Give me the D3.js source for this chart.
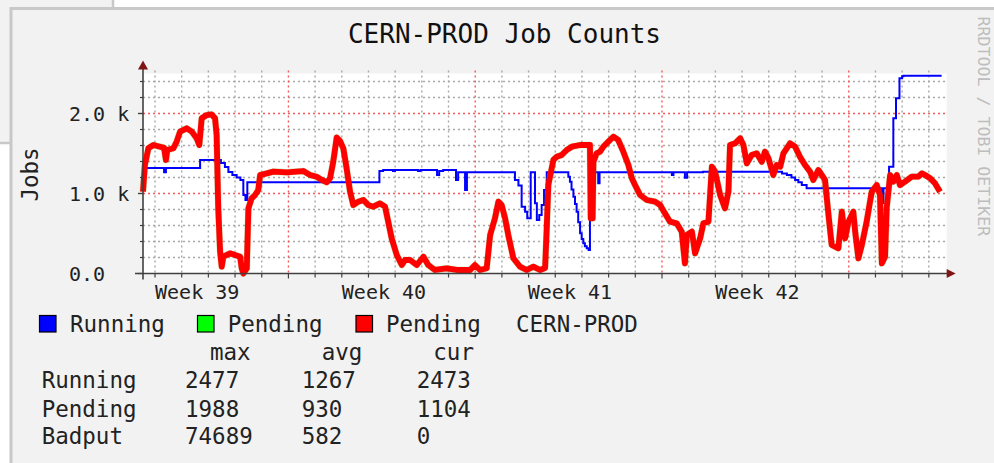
<!DOCTYPE html>
<html><head><meta charset="utf-8">
<script src="https://cdn.jsdelivr.net/npm/d3@7"></script>
<style>html,body{margin:0;padding:0;background:#fff;overflow:hidden}</style>
</head><body>
<svg id="c" width="994" height="463"></svg>
<script>
// ---------- data ----------
const title = "CERN-PROD Job Counts";
const yLabel = "Jobs";
const watermark = "RRDTOOL / TOBI OETIKER";
const yDomain = [0, 2500];
const xDomain = [0, 30.12];            // days since graph start
const yMajorTicks = [0, 1000, 2000];
const yTickLabels = ["0.0", "1.0 k", "2.0 k"];
const yMinorStep = 200;
const weekStarts = [5.45, 12.45, 19.45, 26.45];
const weekLabelDays = [2.03, 9.03, 16.0, 23.03];
const weekLabels = ["Week 39", "Week 40", "Week 41", "Week 42"];

// Running jobs (step series): [day, jobs]
const runningData = [
 [0,1320],[0.79,1265],[0.86,1320],[2.14,1420],[2.92,1380],[3.07,1330],[3.20,1270],[3.35,1230],
 [3.51,1200],[3.65,1169],[3.76,981],[3.84,920],[3.91,1140],[8.86,1281],[9.00,1294],[9.37,1281],
 [9.44,1294],[10.31,1281],[10.40,1294],[11.02,1231],[11.10,1281],[11.25,1294],[11.73,1169],
 [11.81,1265],[12.07,1044],[12.14,1265],[13.94,1169],[14.07,1100],[14.19,835],[14.32,773],
 [14.40,690],[14.53,1265],[14.69,877],[14.76,669],[14.85,731],[14.94,856],[15.03,1044],
 [15.13,1265],[15.94,1210],[16.00,1148],[16.06,1050],[16.13,960],[16.19,870],[16.25,773],
 [16.31,640],[16.38,502],[16.44,430],[16.50,377],[16.56,340],[16.63,315],[16.70,294],
 [16.75,1265],[17.06,1127],[17.11,1265],[19.82,1231],[19.88,1265],[20.31,1198],[20.39,1265],
 [20.99,1273],[23.95,1250],[24.13,1231],[24.30,1200],[24.44,1169],[24.56,1140],[24.69,1106],
 [24.87,1065],[27.69,880],[27.75,1065],[27.96,1335],[28.12,1940],[28.22,2190],[28.35,2440],
 [28.45,2465],[28.50,2473],[29.93,2473]
];

// Pending jobs: [day, jobs]
const pendingData = [
 [0.00,1023],[0.07,1356],[0.20,1565],[0.39,1606],[0.64,1585],[0.79,1570],[0.86,1419],[0.91,1544],
 [1.14,1565],[1.26,1648],[1.39,1773],[1.64,1815],[1.83,1773],[2.01,1690],[2.11,1606],[2.20,1940],
 [2.39,1981],[2.57,1988],[2.70,1940],[2.76,1731],[2.82,815],[2.89,273],[2.95,85],[3.01,210],
 [3.26,252],[3.45,231],[3.64,210],[3.70,65],[3.76,0],[3.89,65],[3.95,815],[4.07,940],[4.20,981],
 [4.32,1044],[4.39,1231],[4.64,1252],[4.88,1273],[5.39,1265],[6.01,1281],[6.26,1231],[6.51,1210],
 [6.70,1169],[6.89,1140],[7.01,1190],[7.13,1398],[7.26,1700],[7.38,1660],[7.51,1560],[7.63,1315],
 [7.76,1023],[7.88,856],[8.07,898],[8.26,919],[8.44,856],[8.63,835],[8.88,877],[9.07,835],
 [9.19,648],[9.32,440],[9.51,231],[9.70,106],[9.82,169],[10.01,169],[10.26,106],[10.51,210],
 [10.69,106],[10.94,44],[11.38,65],[11.76,44],[12.26,44],[12.44,106],[12.63,44],[12.88,65],
 [13.01,481],[13.19,690],[13.32,898],[13.44,856],[13.57,690],[13.69,481],[13.88,190],[14.13,85],
 [14.38,44],[14.63,85],[14.88,44],[15.07,69],[15.13,565],[15.19,1106],[15.38,1419],[15.51,1460],
 [15.69,1481],[15.88,1544],[16.07,1585],[16.38,1606],[16.75,1606],[16.78,690],[16.85,690],
 [16.88,1398],[17.00,1502],[17.13,1523],[17.25,1585],[17.44,1648],[17.63,1710],[17.81,1669],
 [18.00,1523],[18.19,1356],[18.32,1190],[18.44,1106],[18.63,981],[18.88,919],[19.19,898],
 [19.38,856],[19.56,752],[19.75,648],[20.00,627],[20.19,523],[20.31,127],[20.38,481],[20.57,523],
 [20.69,252],[20.88,440],[21.00,627],[21.19,648],[21.32,1335],[21.44,1273],[21.63,981],[21.81,815],
 [21.94,1023],[22.00,1606],[22.19,1627],[22.38,1690],[22.50,1606],[22.63,1377],[22.81,1481],
 [23.00,1502],[23.19,1398],[23.31,1523],[23.44,1440],[23.62,1231],[23.75,1356],[23.88,1335],
 [24.00,1502],[24.25,1627],[24.44,1585],[24.62,1460],[24.81,1356],[25.00,1273],[25.12,1169],
 [25.31,1294],[25.56,1169],[25.69,731],[25.81,356],[26.06,315],[26.19,773],[26.31,440],[26.44,648],
 [26.62,773],[26.69,523],[26.81,190],[26.94,356],[27.12,648],[27.31,1023],[27.50,1106],[27.62,981],
 [27.69,127],[27.81,210],[27.87,815],[28.00,1231],[28.12,1148],[28.25,1231],[28.37,1106],
 [28.56,1148],[28.81,1210],[29.06,1210],[29.19,1252],[29.31,1231],[29.50,1190],[29.68,1127],
 [29.87,1023]
];

const legendNames = ["Running", "Pending", "Pending"];
const legendColors = ["#0000ff", "#00ff00", "#ff0000"];
const legendSite = "CERN-PROD";
const statHeaders = ["max", "avg", "cur"];
const statRows = ["Running", "Pending", "Badput"];
const statMax = [2477, 1988, 74689];
const statAvg = [1267, 930, 582];
const statCur = [2473, 1104, 0];

// ---------- drawing ----------
const svg = d3.select("#c");
const mono = "'DejaVu Sans Mono', monospace";
const x = d3.scaleLinear().domain(xDomain).range([143, 946.7]);
const y = d3.scaleLinear().domain(yDomain).range([273.5, 73.5]);

// page decoration
svg.append("rect").attr("x",0).attr("y",0).attr("width",994).attr("height",463).attr("fill","#fff");
svg.append("rect").attr("x",-5).attr("y",-5).attr("width",118).attr("height",148)
  .attr("fill","#f2f2f2").attr("stroke","#c8c8c8").attr("stroke-width",2.5);
svg.append("rect").attr("x",11).attr("y",8.5).attr("width",1000).attr("height",480)
  .attr("fill","#f2f2f2").attr("stroke","#c8c8c8").attr("stroke-width",3);

// plot background
svg.append("rect").attr("x",x.range()[0]).attr("y",y.range()[1])
  .attr("width",x.range()[1]-x.range()[0]).attr("height",y.range()[0]-y.range()[1]).attr("fill","#fff");

// grid
const g = svg.append("g");
const dayTicks = d3.range(weekStarts[0] % 1, xDomain[1], 1);
const isWeek = d => weekStarts.some(w => Math.abs(w - d) < 0.01);
const yMinor = d3.range(yDomain[0], yDomain[1], yMinorStep).filter(v => v > 0);
g.selectAll(".hg").data(yMinor).enter().append("line")
  .attr("x1",x.range()[0]).attr("x2",x.range()[1]).attr("y1",d=>y(d)).attr("y2",d=>y(d))
  .attr("stroke",d=>yMajorTicks.includes(d)?"#f05a5a":"#a8a8a8").attr("stroke-width",1.4)
  .attr("stroke-dasharray","2,3");
g.selectAll(".vg").data(dayTicks).enter().append("line")
  .attr("x1",d=>x(d)).attr("x2",d=>x(d)).attr("y1",y.range()[1]-3).attr("y2",y.range()[0])
  .attr("stroke",d=>isWeek(d)?"#f05a5a":"#a8a8a8").attr("stroke-width",1.4)
  .attr("stroke-dasharray","2,3");

// data
const lineRun = d3.line().x(d=>x(d[0])).y(d=>y(d[1])).curve(d3.curveStepAfter);
const linePend = d3.line().x(d=>x(d[0])).y(d=>y(d[1]));
svg.append("path").attr("d",lineRun(runningData)).attr("fill","none")
  .attr("stroke","#0000ff").attr("stroke-width",2);
svg.append("path").attr("d",linePend(pendingData)).attr("fill","none")
  .attr("stroke","#6a8a00").attr("stroke-width",6.6).attr("stroke-linejoin","round").attr("stroke-opacity",0.35);
svg.append("path").attr("d",linePend(pendingData)).attr("fill","none")
  .attr("stroke","#ff0000").attr("stroke-width",5.8).attr("stroke-linejoin","round");

// axes
const ax = svg.append("g").attr("stroke","#404040");
ax.append("line").attr("x1",x.range()[0]-8).attr("x2",x.range()[1]+2)
  .attr("y1",y(0)).attr("y2",y(0)).attr("stroke-width",1.6);
ax.append("line").attr("x1",x.range()[0]).attr("x2",x.range()[0])
  .attr("y1",y(0)+6).attr("y2",y.range()[1]-6).attr("stroke-width",1.6);
ax.selectAll(".yt").data(yMinor.concat(yMajorTicks)).enter().append("line")
  .attr("x1",d=>x.range()[0]-(yMajorTicks.includes(d)?5:3)).attr("x2",x.range()[0])
  .attr("y1",d=>y(d)).attr("y2",d=>y(d)).attr("stroke-width",1.2);
ax.selectAll(".xt").data(dayTicks).enter().append("line")
  .attr("x1",d=>x(d)).attr("x2",d=>x(d))
  .attr("y1",y(0)).attr("y2",d=>y(0)+(isWeek(d)?5:4)).attr("stroke-width",1.2);
// arrows
const x0 = x.range()[0], yT = y.range()[1];
svg.append("path").attr("fill","#7f1515")
  .attr("d",`M${x0},${yT-13}L${x0-5},${yT-4}L${x0+5},${yT-4}Z`);
const xR = x.range()[1];
svg.append("path").attr("fill","#7f1515")
  .attr("d",`M${xR+9},${y(0)}L${xR},${y(0)-4.5}L${xR},${y(0)+4.5}Z`);

// texts
svg.append("text").attr("x",504.5).attr("y",43).attr("text-anchor","middle")
  .attr("font-family",mono).attr("font-size",26).attr("fill","#111").text(title);
svg.selectAll(".yl").data(yMajorTicks).enter().append("text")
  .attr("x",69).attr("y",d=>y(d)+7.3).attr("font-family",mono).attr("font-size",20)
  .attr("fill","#222").text((d,i)=>yTickLabels[i]);
svg.selectAll(".wl").data(weekLabelDays).enter().append("text")
  .attr("x",d=>x(d)).attr("y",298.5).attr("text-anchor","middle").attr("font-family",mono)
  .attr("font-size",20).attr("fill","#222").text((d,i)=>weekLabels[i]);
svg.append("text").attr("transform","translate(38,174.5) rotate(-90)").attr("text-anchor","middle")
  .attr("font-family",mono).attr("font-size",22.5).attr("fill","#222").text(yLabel);
svg.append("text").attr("transform","translate(978,16.5) rotate(90)")
  .attr("font-family",mono).attr("font-size",16.6).attr("fill","#bdbdbd").text(watermark);

// legend
const boxX = [39.5, 197.5, 356];
const textX = [70, 227.7, 386];
legendNames.forEach((n,i)=>{
  svg.append("rect").attr("x",boxX[i]).attr("y",315.5).attr("width",16.5).attr("height",16.5)
    .attr("fill",legendColors[i]).attr("stroke","#000").attr("stroke-width",1.2);
  svg.append("text").attr("x",textX[i]).attr("y",332).attr("font-family",mono)
    .attr("font-size",22.5).attr("fill","#222").text(n);
});
svg.append("text").attr("x",516).attr("y",332).attr("font-family",mono)
  .attr("font-size",22.5).attr("fill","#222").text(legendSite);

const colX = [185, 301.7, 416.7];
const headX = [210, 321.7, 433.3];
statHeaders.forEach((h,i)=>{
  svg.append("text").attr("x",headX[i]).attr("y",360).attr("font-family",mono)
    .attr("font-size",22.5).attr("fill","#222").text(h);
});
const rowY = [388.3, 416.5, 444.3];
statRows.forEach((r,i)=>{
  svg.append("text").attr("x",41.7).attr("y",rowY[i]).attr("font-family",mono)
    .attr("font-size",22.5).attr("fill","#222").text(r);
  [statMax[i], statAvg[i], statCur[i]].forEach((v,j)=>{
    svg.append("text").attr("x",colX[j]).attr("y",rowY[i]).attr("font-family",mono)
      .attr("font-size",22.5).attr("fill","#222").text(v);
  });
});
</script>
</body></html>
